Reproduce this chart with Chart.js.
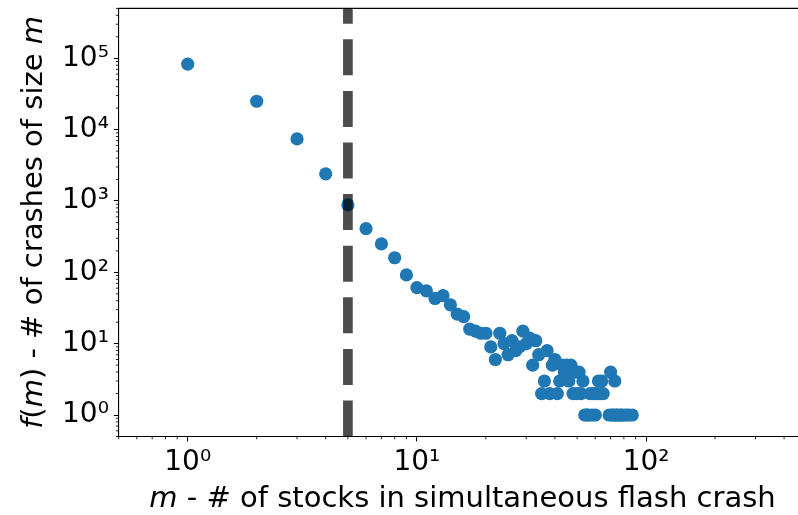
<!DOCTYPE html>
<html><head><meta charset="utf-8">
<script src="https://cdn.jsdelivr.net/npm/chart.js@4.4.0/dist/chart.umd.min.js"></script>
<style>html,body{margin:0;padding:0;background:#fff;overflow:hidden;} canvas{display:block;}</style>
</head><body><canvas id="c" width="798" height="515" style="width:798px;height:515px;"></canvas>
<script>
// ---- data ----
const crashSize = [1,2,3,4,5,6,7,8,9,10,11,12,13,14,15,16,17,18,19,20,
  21,22,23,24,25,26,27,28,29,30,31,32,33,34,35,36,37,38,39,40,
  41,42,43,44,45,46,47,48,49,50,51,52,53,54,55,56,57,58,59,60,
  61,62,63,64,65,69,70,71,72,73,74,75,77,78,80,82,84,87];
const crashCount = [83000,25000,7400,2400,880,410,250,160,92,61,55,43,47,35,26,24,16,15,14,14,
  9,6,14,10,7,11,8,9,15,10,12,5,11,7,2,3,8,2,5,6,
  2,3,5,4,5,3,5,2,4,2,4,2,3,1,1,1,2,1,2,1,
  2,3,2,3,2,1,4,1,1,3,1,1,1,1,1,1,1,1];
const thresholdX = 5;
const xTickValues = [1, 10, 100];
const xTickLabels = ['10\u2070','10\u00B9','10\u00B2'];
const yTickValues = [1, 10, 100, 1000, 10000, 100000];
const yTickLabels = ['10\u2070','10\u00B9','10\u00B2','10\u00B3','10\u2074','10\u2075'];
const xRange = [0.5, 460];
const xFullMax = 500;
const yRange = [0.5, 5e5];
const xTitleParts = [['m', true], [' - # of stocks in simultaneous flash crash', false]];
const yTitleParts = [['f', true], ['(', false], ['m', true], [') - # of crashes of size ', false], ['m', true]];

const FONT = '"DejaVu Sans", "Liberation Sans", sans-serif';

function minorValues(min, max) {
  const out = [];
  for (let e = -2; e <= 6; e++) {
    for (let k = 2; k <= 9; k++) {
      const v = k * Math.pow(10, e);
      if (v >= min - 1e-9 && v <= max) out.push(v);
    }
  }
  return out;
}

function measureParts(ctx, parts, size) {
  let total = 0;
  const widths = parts.map(([t, it]) => {
    ctx.font = (it ? 'italic ' : '') + size + 'px ' + FONT;
    const w = ctx.measureText(t).width; total += w; return w;
  });
  return {total, widths};
}

const decor = {
  id: 'decor',
  afterDraw(chart) {
    const ctx = chart.ctx, a = chart.chartArea;
    const xs = chart.scales.x, ys = chart.scales.y;
    ctx.save();
    ctx.strokeStyle = '#000'; ctx.lineWidth = 1.1;
    ctx.beginPath(); ctx.moveTo(a.left, a.top); ctx.lineTo(a.right, a.top); ctx.stroke();
    ctx.lineWidth = 0.85;
    ctx.beginPath();
    minorValues(xRange[0], xRange[1]).forEach(v => {
      const p = xs.getPixelForValue(v);
      ctx.moveTo(p, a.bottom); ctx.lineTo(p, a.bottom + 2.8);
    });
    minorValues(yRange[0], yRange[1]).forEach(v => {
      const p = ys.getPixelForValue(v);
      ctx.moveTo(a.left, p); ctx.lineTo(a.left - 2.8, p);
    });
    ctx.stroke();
    const size = 29;
    ctx.fillStyle = '#000';
    ctx.textBaseline = 'alphabetic';
    ctx.textAlign = 'left';
    let m = measureParts(ctx, xTitleParts, size);
    const cx = (a.left + xs.getPixelForValue(xFullMax)) / 2;
    let x = cx - m.total / 2;
    xTitleParts.forEach(([t, it], i) => {
      ctx.font = (it ? 'italic ' : '') + size + 'px ' + FONT;
      ctx.fillText(t, x, 507); x += m.widths[i];
    });
    m = measureParts(ctx, yTitleParts, size);
    const cy = (a.top + a.bottom) / 2;
    ctx.translate(41.5, cy);
    ctx.rotate(-Math.PI / 2);
    x = -m.total / 2;
    yTitleParts.forEach(([t, it], i) => {
      ctx.font = (it ? 'italic ' : '') + size + 'px ' + FONT;
      ctx.fillText(t, x, 0); x += m.widths[i];
    });
    ctx.restore();
  }
};

const points = crashSize.map((v, i) => ({x: v, y: crashCount[i]}));
const vline = [{x: thresholdX, y: yRange[0]}, {x: thresholdX, y: yRange[1]}];

new Chart(document.getElementById('c'), {
  type: 'scatter',
  data: {
    datasets: [
      {type: 'line', data: vline, borderColor: 'rgba(0,0,0,0.7)', borderWidth: 9.7,
       borderDash: [36, 15.6], pointRadius: 0, fill: false, order: 0, showLine: true},
      {type: 'scatter', data: points, backgroundColor: '#1f77b4', borderWidth: 0,
       pointRadius: 6.6, pointHoverRadius: 6.6, order: 1}
    ]
  },
  options: {
    responsive: false, maintainAspectRatio: false, animation: false, devicePixelRatio: 1,
    layout: {autoPadding: false, padding: {top: 8.4, right: 0, left: 0, bottom: 0}},
    plugins: {legend: {display: false}, tooltip: {enabled: false}},
    events: [],
    scales: {
      x: {
        type: 'logarithmic', min: xRange[0], max: xRange[1],
        afterFit(s) { s.height = 78.5; s.paddingLeft = 0; s.paddingRight = 0; s.paddingTop = 0; s.paddingBottom = 0; },
        afterBuildTicks(s) { s.ticks = xTickValues.map(v => ({value: v})); },
        grid: {display: true, drawOnChartArea: false, drawTicks: true, tickLength: 4.9, tickWidth: 1.1, tickColor: '#000'},
        border: {display: true, color: '#000', width: 1.1},
        ticks: {autoSkip: false, maxRotation: 0, minRotation: 0, padding: 4.9, color: '#000',
          font: {family: FONT, size: 28},
          callback(v) { const i = xTickValues.indexOf(v); return i >= 0 ? xTickLabels[i] : ''; }}
      },
      y: {
        type: 'logarithmic', min: yRange[0], max: yRange[1],
        afterFit(s) { s.width = 118.7; s.paddingLeft = 0; s.paddingRight = 0; s.paddingTop = 0; s.paddingBottom = 0; },
        afterBuildTicks(s) { s.ticks = yTickValues.map(v => ({value: v})); },
        grid: {display: true, drawOnChartArea: false, drawTicks: true, tickLength: 4.9, tickWidth: 1.1, tickColor: '#000'},
        border: {display: true, color: '#000', width: 1.1},
        ticks: {autoSkip: false, padding: 4.9, color: '#000',
          font: {family: FONT, size: 28},
          callback(v) { const i = yTickValues.indexOf(v); return i >= 0 ? yTickLabels[i] : ''; }}
      }
    }
  },
  plugins: [decor]
});
</script>
</body></html>
